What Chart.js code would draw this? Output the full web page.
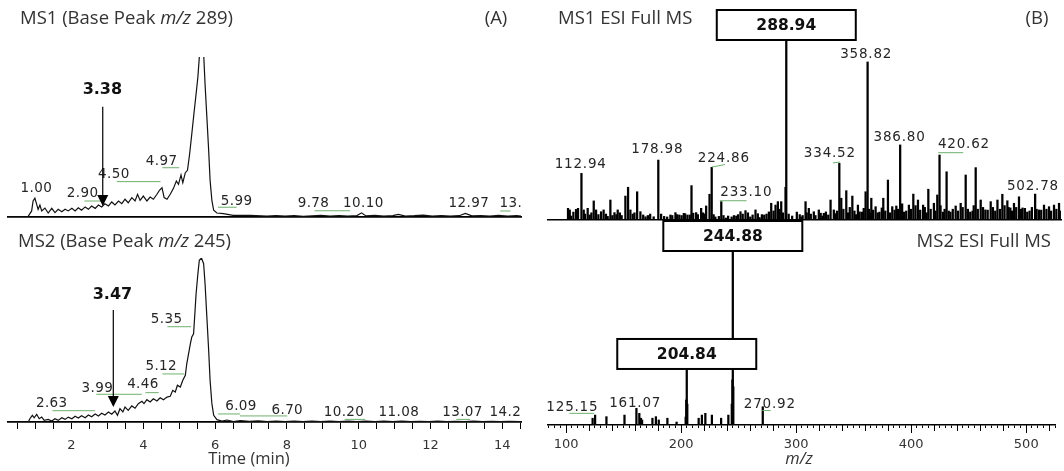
<!DOCTYPE html>
<html><head><meta charset="utf-8">
<script src="https://cdn.jsdelivr.net/npm/chart.js@4.4.1/dist/chart.umd.min.js"></script>
<style>
html,body{margin:0;padding:0;background:#fff;width:1064px;height:471px;overflow:hidden}
canvas{position:absolute;left:0;top:0}
</style></head><body>
<canvas id="a1" width="1064" height="471"></canvas>
<canvas id="a2" width="1064" height="471"></canvas>
<canvas id="b1" width="1064" height="471"></canvas>
<canvas id="b2" width="1064" height="471"></canvas>
<script>
// ================= DATA =================
// (A) MS1 base peak chromatogram (m/z 289): retention time (min) / relative intensity (%)
const ms1Time = [0.23,0.78,0.89,0.93,0.98,1.03,1.07,1.12,1.17,1.26,1.35,1.45,1.54,1.63,1.73,1.82,1.91,2.01,2.10,2.19,2.28,2.38,2.47,2.56,2.66,2.75,2.84,2.93,3.03,3.12,3.21,3.31,3.40,3.49,3.58,3.68,3.77,3.84,3.91,4.00,4.10,4.19,4.28,4.38,4.45,4.52,4.58,4.66,4.75,4.84,4.92,4.98,5.05,5.10,5.17,5.23,5.29,5.35,5.42,5.47,5.52,5.56,5.62,5.685,5.72,5.77,5.82,5.86,5.91,5.96,6.05,6.23,6.50,6.98,7.44,7.70,7.95,8.20,8.45,8.70,8.95,9.20,9.45,9.70,9.95,10.08,10.20,10.45,10.70,10.95,11.10,11.30,11.55,11.80,12.05,12.30,12.55,12.80,12.97,13.15,13.40,13.65,13.90,14.15,14.40,14.54];
const ms1Int  = [0,0,3.8,10,11.7,7.9,4.8,7.5,3.8,5.6,2.5,5.4,2.7,4.8,3.3,4.8,3.8,5.4,3.8,5.8,4.2,6.3,4.8,6.9,5.4,7.5,6.3,8.3,6.9,9.4,7.5,10,8.3,11.1,8.9,12.1,10,14.2,10.4,13.1,10,12.5,11.1,14.2,16.7,18.3,12.1,11.1,14.2,17.9,22.5,20.4,26.3,21.4,27.7,29.2,39.4,51.9,66.7,76.9,87.5,100,118,100,83,62.5,41.7,22.9,10.4,4.2,2.5,2.1,1.0,1.0,0.6,0.9,0.5,0.8,0.4,0.7,1.1,0.5,0.8,0.6,0.9,2.6,0.7,1.0,0.5,0.9,1.6,0.6,0.8,1.2,0.5,0.9,0.6,0.8,2.2,0.7,0.9,0.5,1.0,0.6,0.8,0.6];
// (A) MS2 base peak chromatogram (m/z 245)
const ms2Time = [0.23,0.795,0.84,0.91,0.96,1.03,1.10,1.17,1.24,1.35,1.45,1.54,1.63,1.73,1.82,1.91,2.01,2.10,2.19,2.28,2.38,2.47,2.56,2.66,2.75,2.84,2.93,3.03,3.12,3.21,3.28,3.35,3.43,3.49,3.58,3.68,3.77,3.86,3.96,4.02,4.10,4.19,4.28,4.38,4.47,4.56,4.66,4.75,4.82,4.89,4.95,5.03,5.10,5.17,5.21,5.26,5.31,5.35,5.40,5.43,5.47,5.52,5.56,5.62,5.68,5.72,5.77,5.82,5.86,5.91,5.96,6.05,6.19,6.33,6.51,6.70,6.95,7.20,7.45,7.70,7.95,8.20,8.45,8.70,8.95,9.20,9.45,9.70,9.95,10.20,10.45,10.70,10.95,11.20,11.45,11.70,11.95,12.20,12.45,12.70,12.95,13.20,13.45,13.70,13.95,14.20,14.54];
const ms2Int  = [0,0,2.0,4.1,2.6,4.7,2.0,3.0,1.0,1.6,0.6,2.0,1.0,2.6,1.6,3.0,2.0,3.5,2.4,3.8,2.6,4.3,3.2,4.9,3.7,5.3,4.3,6.1,4.7,6.7,4.1,8.1,6.1,9.1,7.1,9.8,8.4,11.2,12.6,11.2,13.6,12.2,14.2,12.8,14.8,13.6,15.2,15.7,19.3,18.3,22.4,21.3,25.4,28.5,35.5,41.6,47.7,51.8,53.8,64,78.2,90.4,98.6,100,96.5,84.3,64,43.7,25.4,11.2,4.1,1.4,0.6,1.2,0.3,0.9,0.4,0.7,0.3,0.6,0.3,0.5,0.2,0.5,0.3,0.6,0.3,0.5,0.3,0.6,0.3,0.5,0.3,0.5,0.2,0.4,0.3,0.5,0.2,0.4,0.3,0.5,0.2,0.4,0.3,0.4,0.3];
// (B) MS1 ESI full MS spectrum: m/z / relative abundance (%)
const ms1Mz = [101.4,102.9,104,106,108.3,110,112.94,114.9,116,118.3,120,121.5,123.5,125.5,127.5,129.8,132,134,135.5,137.8,139.5,141.3,143,144.1,146,147.5,150.7,153,155,157,158.5,160.8,163.6,166,168,170,172,175,178.98,181.4,184,186.6,189.4,191,193.7,195,197,199,200.9,202,204,206,207.5,209,211.5,213,215.8,217.5,219,220.1,223,224.86,226.5,228,231,233.10,235,237,239,242,244,246,247.5,249.6,251.5,253.9,256,258,260,262.5,264.5,266,268,270,272,274,276,278,279.7,281.7,283,284.6,286,288.3,288.94,291,294,298,300.5,302,303,305.5,306.5,308.3,310,312.6,314,316.9,318.5,320,321.2,323,325,327,329.8,331,332.5,334.52,336.2,338,340.5,342,343.5,345.7,347.5,349,350.5,352,354,355.5,357.1,358.82,360,361,362,363.5,365.7,367.5,369,371,372.3,374,376.3,378,380,382,383.5,385,386.80,388.5,390,392,394.3,396,398.1,400,402.1,404,406.5,408,409.5,411,413,415.8,417,418.7,420.62,421.5,423.5,425,426.7,428.5,430,432,434.5,436.5,438.8,440.5,443.1,445,447,449,450,451.7,453.5,456,458,460,462,464.6,466.5,468.5,470.4,472.5,474.6,476.5,478.9,480,481.5,483,484.6,486.5,488.9,490.5,492,494,496,498,500,502.78,504,506,508,510.4,512.5,514.7,516.5,519,521,523.3,524];
const ms1Abund = [6.5,5.6,2.2,4.4,5.9,6.5,25.9,5.6,3.3,6.5,2.8,4,10.6,5.6,3,4.6,5.6,3.3,2,11.1,2.5,4.1,3,5.6,4,2.5,13.3,18.2,5.6,3.3,4,15.7,4.6,2.8,1.8,2.5,3.3,1.8,33.3,3.3,2,1.7,2.8,2.5,4.1,3,2.8,2.5,3.7,3.5,2.8,2.8,19.1,3.8,4.1,3,6.5,4,3.3,7.8,14.3,29.3,3,1.7,2,10.2,2.5,1.1,2.2,1.7,2.5,2.2,3,4.6,3.3,5.2,4,1.7,2.8,5.6,3.5,1.4,3,2.8,3.3,4.5,9.3,5,8.3,10.2,6,10.2,4,18.2,100,3.3,2.2,4.4,3,1.7,2.5,10.2,4,6.5,3.3,4.6,2.5,5.6,3.8,2.2,3.7,4.5,2.8,11.1,5.6,3.5,5,31.5,12.1,6,16.3,4,7,13.3,5,3,8.3,4.5,4.4,6.5,15.7,87.8,6,3.8,12.1,5.5,7.4,4,4.4,6.7,12.1,5,22.2,4,7.4,5.5,7.8,6,41.7,9,4.4,5,8.3,6,14.4,8,11.1,5.5,8.3,7,4,17.1,6,9.3,5,13.9,36.1,8,4.4,6,26.8,5,4.4,6,7.8,5,9.3,7,25,6,4.4,5,8,29.1,6,11.1,7,5.6,5.5,10.2,7,5,11.1,6,14.3,8,10.7,7,6.7,5,9.3,7,12.9,6,6.7,6.5,4.4,5,7,14.4,6,5.6,5.5,8.3,6,7.4,5,8.3,6,9.3,5];
// (B) MS2 ESI full MS spectrum
const ms2Mz = [123,125.15,135,150.7,161.07,163.6,165,166,175,178,180.5,188,196,203.9,204.4,204.84,205.3,215.2,218,221,226.7,234.7,241,244.0,244.5,244.88,245.3,270.92];
const ms2Abund = [3.9,5.7,4.8,5.7,9.6,6.7,3.9,2.9,3.9,4.8,2.9,3.9,1.7,4.6,14.4,32.2,12,3.9,5.7,6.7,5.7,3.9,5.7,12,25.9,100,22,10.5];

// tick labels and annotation texts
const timeTickLabels = [2,4,6,8,10,12,14];
const mzTickLabels = [100,200,300,400,500];
const ms1RtLabels = ['1.00','2.90','4.50','4.97','5.99','9.78','10.10','12.97','13.29'];
const ms2RtLabels = ['2.63','3.99','4.46','5.12','5.35','6.09','6.70','10.20','11.08','13.07','14.25'];
const ms1MzLabels = ['112.94','178.98','224.86','233.10','334.52','358.82','386.80','420.62','502.78'];
const ms2MzLabels = ['125.15','161.07','270.92'];
const boxedMs1 = [288.94];
const boxedMs2 = [244.88, 204.84];
const markedRt = ['3.38','3.47'];

// ================= LAYOUT (data-unit placements of annotations) =================
const ms1RtLabelPos = [[1.02,17.9],[2.31,14.8],[3.18,26.3],[4.51,34.6],[6.60,9.6],[8.74,8.6],[10.13,8.6],[13.07,8.6],[14.49,8.6]];
const ms1RtLinks = [[2.36,10,2.83,10],[3.26,22.1,4.48,22.1],[4.53,30.8,5.00,30.8],[6.08,6.1,6.60,6.1],[8.77,3.9,9.76,3.9],[13.94,3.75,14.23,3.75]];
const ms2RtLabelPos = [[1.45,11.4],[2.72,20.5],[3.99,22.6],[4.50,33.7],[4.65,62.2],[6.72,9.3],[8.01,6.9],[9.59,5.7],[11.12,5.7],[12.89,5.7],[14.21,5.7]];
const ms2RtLinks = [[1.47,6.9,2.65,6.9],[2.69,16.9,3.96,16.9],[4.06,17.9,4.43,17.9],[4.53,29.3,5.14,29.3],[4.67,58.1,5.33,58.1],[6.08,4.9,6.69,4.9],[6.69,3.7,8.01,3.7],[9.61,1.6,10.18,1.6],[12.72,1.6,13.10,1.6]];
const arrowMs1 = {t:2.87, tip:6.9, top:68.9, text:[2.86,79.4]};
const arrowMs2 = {t:3.164, tip:9.1, top:68.3, text:[3.14,77.4]};
const ms1MzLabelPos = [[112.3,30.6],[178.1,38.9],[235.3,34.4],[254.6,15.2],[326.4,36.7],[357.6,91.9],[386.3,46.1],[441.6,41.7],[500.9,18.5]];
const ms1MzLinks = [[225,29.4,236.2,30.8],[231.8,10.7,254.8,10.7],[329,31.7,335.1,32.2],[419.5,37.4,441,37.4]];
const ms2MzLabelPos = [[105.4,10.3],[160,12.2],[277,11.8]];
const ms2MzLinks = [[102.8,6.7,124.3,6.7],[270.5,8.3,277.8,8.3]];

const W = 1064, H = 471;
const A = {left:8, right:521, t1:57, b1:217, t2:258, b2:422, xmin:0.231, xmax:14.52};
const B = {left:548, right:1061, t1:40, b1:220, t2:251, b2:425, xmin:84.2, xmax:525.0};
const GREEN = '#6fb06f';
const LABEL = '#262626';
const LBL_FONT = '13.5px "DejaVu Sans"';
const TITLE_FONT = '18.5px "Open Sans"';
const TITLE_IT = 'italic 18.5px "Open Sans"';

function text(ctx, s, x, y, font, color, align, ls) {
  ctx.font = font; ctx.fillStyle = color; ctx.textAlign = align || 'center';
  ctx.textBaseline = 'middle'; ctx.letterSpacing = ls || '0px'; ctx.fillText(s, x, y);
  ctx.letterSpacing = '0px';
}
function rich(ctx, segs, x, y, color, align) {
  ctx.textBaseline = 'middle'; ctx.fillStyle = color; ctx.letterSpacing = '0px'; ctx.textAlign = 'left';
  let w = 0; for (const [s, f] of segs) { ctx.font = f; w += ctx.measureText(s).width; }
  let cx = align === 'right' ? x - w : x;
  for (const [s, f] of segs) { ctx.font = f; ctx.fillText(s, cx, y); cx += ctx.measureText(s).width; }
}
function seg(ctx, x1, y1, x2, y2, color, lw) {
  ctx.beginPath(); ctx.strokeStyle = color; ctx.lineWidth = lw; ctx.moveTo(x1, y1); ctx.lineTo(x2, y2); ctx.stroke();
}
function box(ctx, cx, bottom, label) {
  const w = 139, h = 30;
  ctx.fillStyle = '#fff'; ctx.fillRect(cx - w/2, bottom - h, w, h);
  ctx.strokeStyle = '#000'; ctx.lineWidth = 2; ctx.strokeRect(cx - w/2, bottom - h, w, h);
  text(ctx, label, cx, bottom - h/2 + 1, 'bold 15.5px "DejaVu Sans"', '#111', 'center');
}

function annotPlugin(id, draw) {
  return { id, afterDraw(chart) {
    const ctx = chart.ctx, xs = chart.scales.x, ys = chart.scales.y;
    const X = v => xs.getPixelForValue(v), Y = v => ys.getPixelForValue(v);
    ctx.save(); draw(ctx, X, Y, chart); ctx.restore();
  }};
}

function makeChart(id, cfg) {
  const axisH = cfg.axis === 'none' ? 0 : H - cfg.bottom;
  const x = {
    type: 'linear', min: cfg.xmin, max: cfg.xmax, offset: false,
    border: {display: true, color: '#000', width: cfg.borderW || 1.6},
    afterFit: s => { s.height = axisH; }
  };
  if (cfg.axis === 'none') {
    x.ticks = {display: false};
    x.grid = {display: false, offset: false};
  } else {
    x.ticks = {
      display: true, stepSize: cfg.step, includeBounds: false, autoSkip: false, maxRotation: 0,
      color: '#333', font: {family: 'DejaVu Sans', size: 13}, padding: cfg.tickPad,
      callback: v => cfg.labels.some(l => Math.abs(l - v) < 1e-6) ? String(Math.round(v)) : ''
    };
    x.grid = {display: true, drawOnChartArea: false, drawTicks: true, tickLength: cfg.tickLen, color: '#000', lineWidth: 1, offset: false};
  }
  return new Chart(document.getElementById(id), {
    type: cfg.type,
    data: {datasets: [cfg.dataset]},
    options: {
      responsive: false, animation: false, events: [], devicePixelRatio: 1,
      layout: {padding: {left: cfg.left, right: W - cfg.right, top: cfg.top, bottom: cfg.axis === 'none' ? H - cfg.bottom : 0}},
      scales: {x, y: {type: 'linear', min: 0, max: 100, display: false}},
      plugins: {legend: {display: false}, tooltip: {enabled: false}}
    },
    plugins: [cfg.plugin]
  });
}

const pts = (xs, ys) => xs.map((v, i) => ({x: v, y: ys[i]}));
const lineDs = (xs, ys) => ({data: pts(xs, ys), borderColor: '#111', borderWidth: 1.2, pointRadius: 0, tension: 0, fill: false});
const barDs = (xs, ys) => ({data: pts(xs, ys), backgroundColor: '#000', borderWidth: 0, barThickness: 1.6, grouped: false});

// ---- A1 ----
makeChart('a1', {
  type: 'line', dataset: lineDs(ms1Time, ms1Int), axis: 'none', borderW: 1.8,
  left: A.left, right: A.right, top: A.t1, bottom: A.b1, xmin: A.xmin, xmax: A.xmax,
  plugin: annotPlugin('annA1', (ctx, X, Y) => {
    rich(ctx, [['MS1 (Base Peak ', TITLE_FONT], ['m/z', TITLE_IT], [' 289)', TITLE_FONT]], 20, 19, '#333');
    text(ctx, '(A)', 496, 19, TITLE_FONT, '#333', 'center');
    ctx.beginPath(); ctx.rect(0, 0, 521, H); ctx.clip();
    ms1RtLinks.forEach(([a, v1, b, v2]) => seg(ctx, X(a), Y(v1), X(b), Y(v2), GREEN, 1));
    ms1RtLabels.forEach((s, i) => text(ctx, s, X(ms1RtLabelPos[i][0]), Y(ms1RtLabelPos[i][1]), LBL_FONT, LABEL, 'center', '0.4px'));
    const ax = X(arrowMs1.t), tip = Y(arrowMs1.tip);
    seg(ctx, ax, Y(arrowMs1.top), ax, tip - 10, '#000', 1.2);
    ctx.beginPath(); ctx.fillStyle = '#000'; ctx.moveTo(ax - 5.5, tip - 11); ctx.lineTo(ax + 5.5, tip - 11); ctx.lineTo(ax, tip); ctx.closePath(); ctx.fill();
    text(ctx, markedRt[0], X(arrowMs1.text[0]), Y(arrowMs1.text[1]), 'bold 16px "DejaVu Sans"', '#111', 'center');
  })
});

// ---- A2 ----
makeChart('a2', {
  type: 'line', dataset: lineDs(ms2Time, ms2Int), axis: 'time', borderW: 1.8,
  step: 0.5, labels: timeTickLabels, tickLen: 7, tickPad: 9,
  left: A.left, right: A.right, top: A.t2, bottom: A.b2, xmin: A.xmin, xmax: A.xmax,
  plugin: annotPlugin('annA2', (ctx, X, Y) => {
    rich(ctx, [['MS2 (Base Peak ', TITLE_FONT], ['m/z', TITLE_IT], [' 245)', TITLE_FONT]], 18, 242, '#333');
    text(ctx, 'Time (min)', 249, 459, '16.5px "Open Sans"', '#333', 'center');
    ctx.beginPath(); ctx.rect(0, 0, 522, H); ctx.clip();
    ms2RtLinks.forEach(([a, v1, b, v2]) => seg(ctx, X(a), Y(v1), X(b), Y(v2), GREEN, 1));
    ms2RtLabels.forEach((s, i) => text(ctx, s, X(ms2RtLabelPos[i][0]), Y(ms2RtLabelPos[i][1]), LBL_FONT, LABEL, 'center', '0.4px'));
    const ax = X(arrowMs2.t), tip = Y(arrowMs2.tip);
    seg(ctx, ax, Y(arrowMs2.top), ax, tip - 10, '#000', 1.2);
    ctx.beginPath(); ctx.fillStyle = '#000'; ctx.moveTo(ax - 5.5, tip - 11); ctx.lineTo(ax + 5.5, tip - 11); ctx.lineTo(ax, tip); ctx.closePath(); ctx.fill();
    text(ctx, markedRt[1], X(arrowMs2.text[0]), Y(arrowMs2.text[1]), 'bold 16px "DejaVu Sans"', '#111', 'center');
  })
});

// ---- B1 ----
makeChart('b1', {
  type: 'bar', dataset: barDs(ms1Mz, ms1Abund), axis: 'none', borderW: 1.5,
  left: B.left, right: B.right, top: B.t1, bottom: B.b1, xmin: B.xmin, xmax: B.xmax,
  plugin: annotPlugin('annB1', (ctx, X, Y) => {
    text(ctx, 'MS1 ESI Full MS', 558, 19, TITLE_FONT, '#333', 'left');
    text(ctx, '(B)', 1037, 19, TITLE_FONT, '#333', 'center');
    ms1MzLinks.forEach(([a, v1, b, v2]) => seg(ctx, X(a), Y(v1), X(b), Y(v2), GREEN, 1));
    ms1MzLabels.forEach((s, i) => text(ctx, s, X(ms1MzLabelPos[i][0]), Y(ms1MzLabelPos[i][1]), LBL_FONT, LABEL, 'center', '0.8px'));
    boxedMs1.forEach(m => { const i = ms1Mz.indexOf(m); box(ctx, X(m), Y(ms1Abund[i]), m.toFixed(2)); });
  })
});

// ---- B2 ----
makeChart('b2', {
  type: 'bar', dataset: barDs(ms2Mz, ms2Abund), axis: 'mz', borderW: 1.5,
  step: 5, labels: mzTickLabels, tickLen: 3, tickPad: 9,
  left: B.left, right: B.right, top: B.t2, bottom: B.b2, xmin: B.xmin, xmax: B.xmax,
  plugin: annotPlugin('annB2', (ctx, X, Y, chart) => {
    const base = chart.chartArea.bottom;
    for (let v = 85; v <= 525; v += 5) {
      const len = v % 100 === 0 ? 8 : (v % 20 === 0 ? 6 : 0);
      if (len) seg(ctx, Math.round(X(v)) + 0.5, base, Math.round(X(v)) + 0.5, base + len, '#000', 1);
    }
    text(ctx, 'MS2 ESI Full MS', 1051, 242, TITLE_FONT, '#333', 'right');
    text(ctx, 'm/z', 799, 459, 'italic 16.5px "Open Sans"', '#333', 'center');
    ms2MzLinks.forEach(([a, v1, b, v2]) => seg(ctx, X(a), Y(v1), X(b), Y(v2), GREEN, 1));
    ms2MzLabels.forEach((s, i) => text(ctx, s, X(ms2MzLabelPos[i][0]), Y(ms2MzLabelPos[i][1]), LBL_FONT, LABEL, 'center', '0.8px'));
    boxedMs2.forEach(m => { const i = ms2Mz.indexOf(m); box(ctx, X(m), Y(ms2Abund[i]), m.toFixed(2)); });
  })
});
</script>
</body></html>
